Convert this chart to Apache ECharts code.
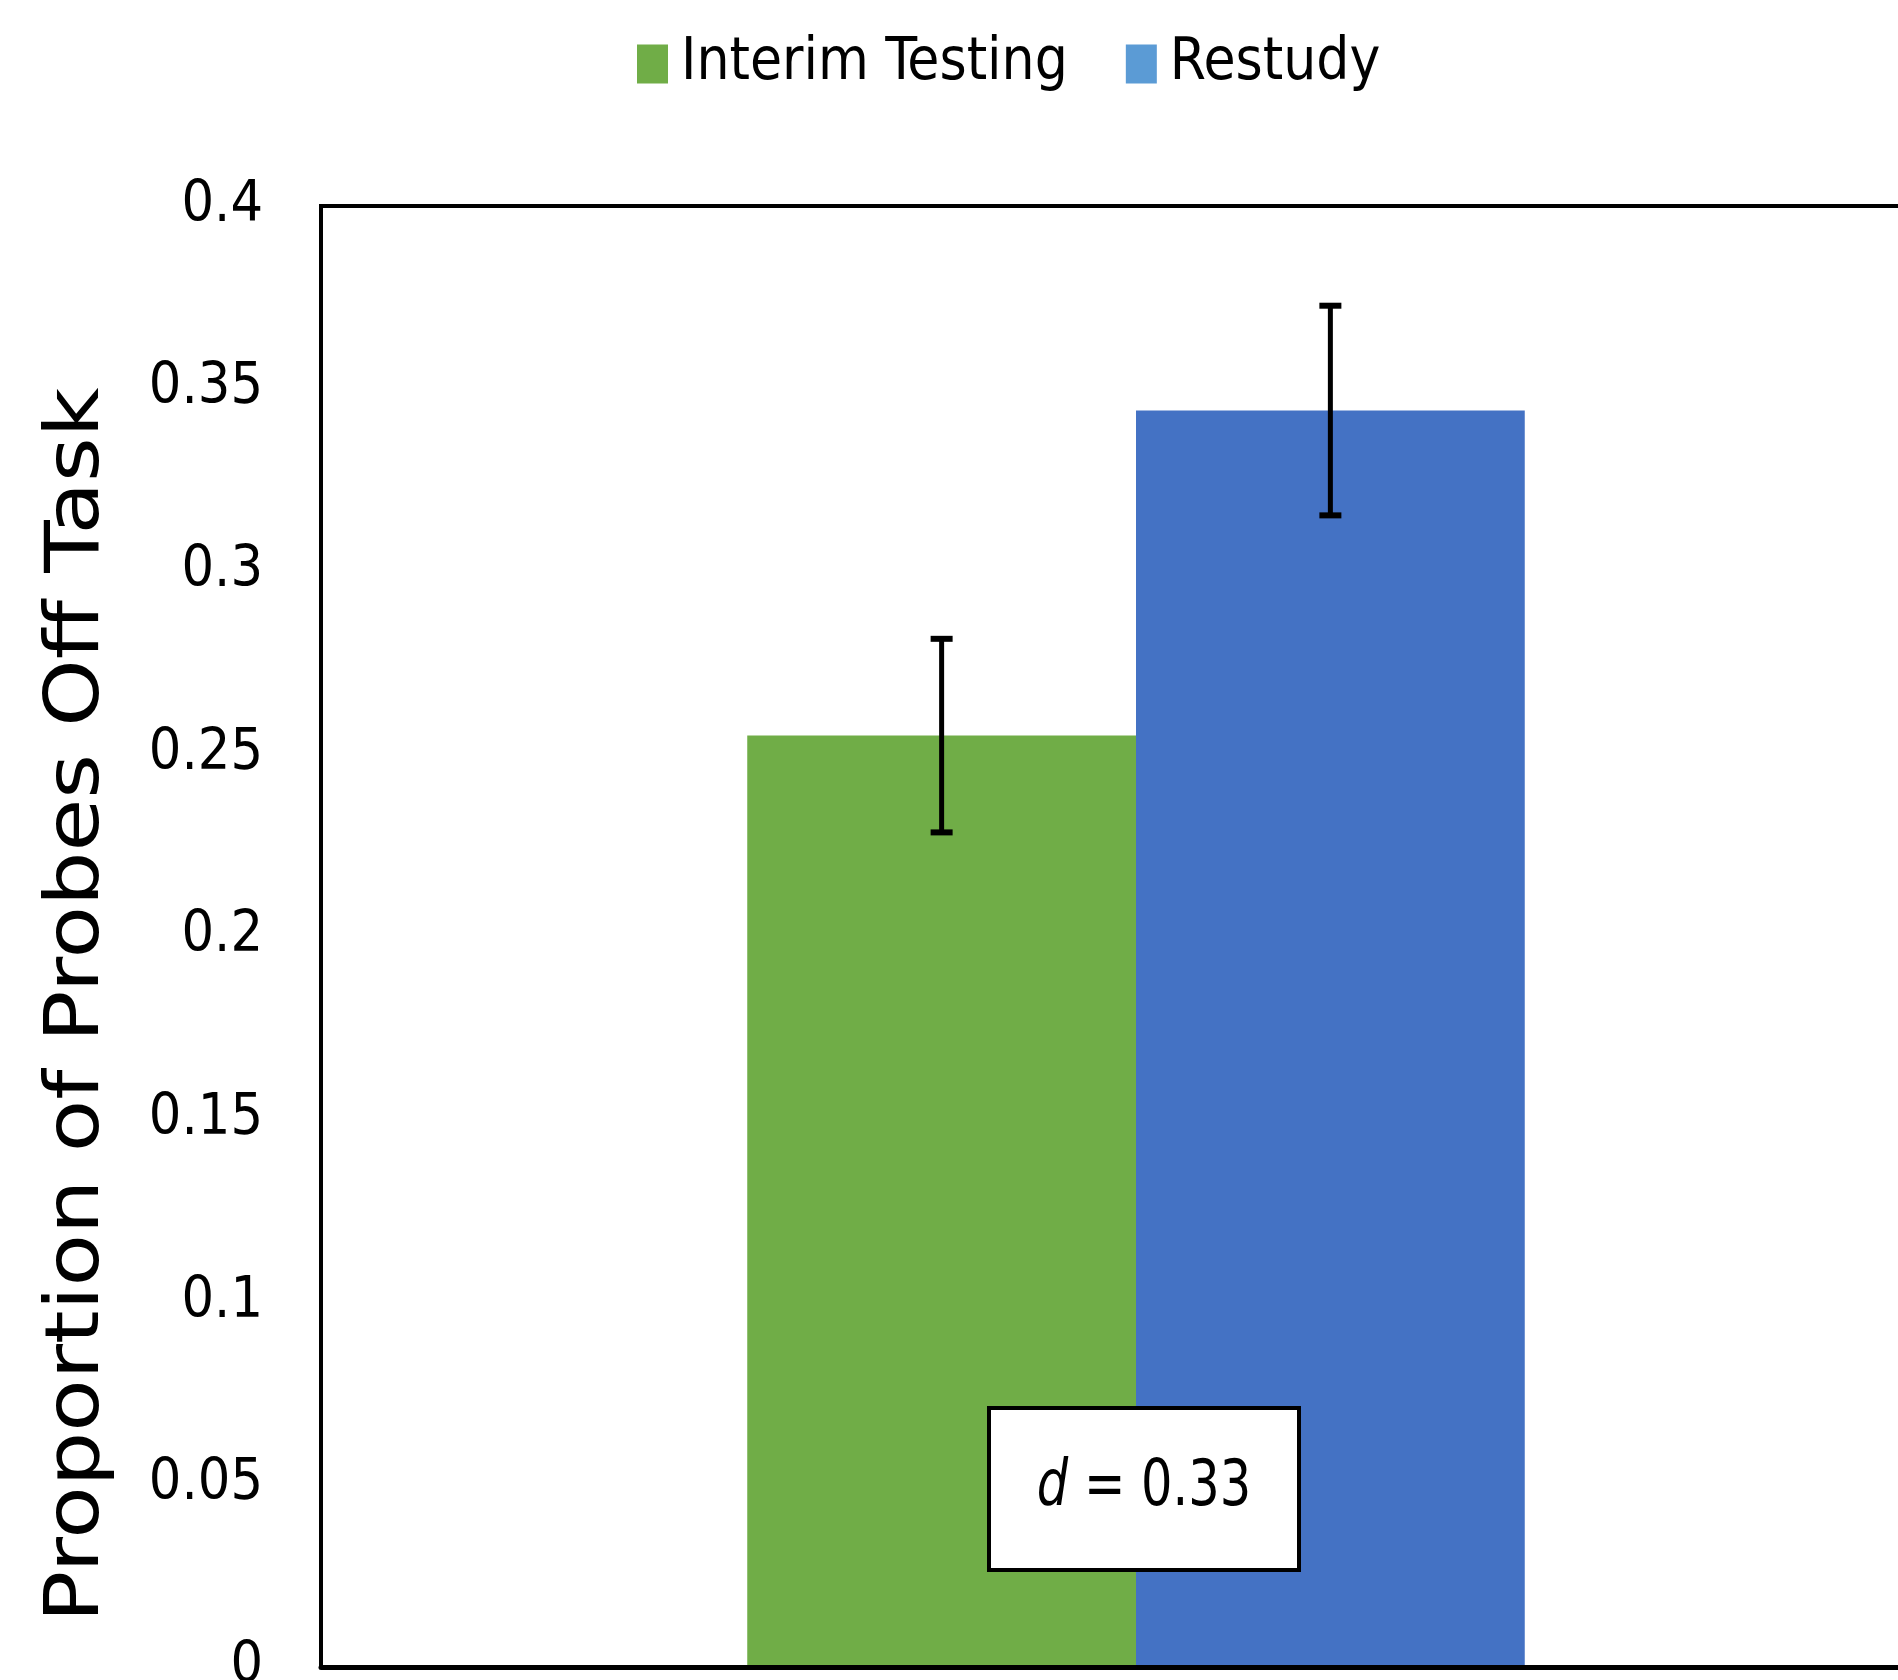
<!DOCTYPE html>
<html>
<head>
<meta charset="utf-8">
<script src="https://cdn.jsdelivr.net/npm/echarts@6/dist/echarts.min.js"></script>
<style>
html,body{margin:0;padding:0;background:#fff;}
#chart{width:1898px;height:1680px;}
</style>
</head>
<body>
<div id="chart"></div>
<script>
const categories = ['Condition'];
const seriesNames = ['Interim Testing', 'Restudy'];
const interimValues = [0.255];
const restudyValues = [0.344];
const interimErr = [0.0265];
const restudyErr = [0.0287];
const yTicks = [0, 0.05, 0.1, 0.15, 0.2, 0.25, 0.3, 0.35, 0.4];
const annotationText = 'd = 0.33';
const yAxisTitle = 'Proportion of Probes Off Task';

const NARROW = '"Liberation Sans Narrow","DejaVu Sans Condensed","Arial Narrow",sans-serif';
const BAR_FRAC = 0.2385;

function errData(vals, errs) {
  return vals.map((v, i) => [i, v - errs[i], v + errs[i]]);
}
function errRender(sign) {
  return function (params, api) {
    const lo = api.coord([api.value(0), api.value(1)]);
    const hi = api.coord([api.value(0), api.value(2)]);
    const band = api.size([1, 0])[0];
    const cx = lo[0] + sign * band * BAR_FRAC / 2;
    const cap = 11;
    const style = { stroke: '#000', lineWidth: 5 };
    return {
      type: 'group',
      children: [
        { type: 'line', shape: { x1: cx, y1: lo[1], x2: cx, y2: hi[1] }, style },
        { type: 'line', shape: { x1: cx - cap, y1: hi[1], x2: cx + cap, y2: hi[1] }, style: { stroke: '#000', lineWidth: 6 } },
        { type: 'line', shape: { x1: cx - cap, y1: lo[1], x2: cx + cap, y2: lo[1] }, style: { stroke: '#000', lineWidth: 6 } }
      ]
    };
  };
}

const chart = echarts.init(document.getElementById('chart'));
chart.setOption({
  animation: false,
  backgroundColor: '#fff',
  legend: {
    left: 632,
    top: 30,
    itemWidth: 31,
    itemHeight: 39,
    itemGap: 58,
    textStyle: { fontFamily: NARROW, fontSize: 58, color: '#000', padding: [0, 0, 0, 8] },
    data: [
      { name: seriesNames[0], icon: 'rect', itemStyle: { color: '#70AD47' } },
      { name: seriesNames[1], icon: 'rect', itemStyle: { color: '#5B9BD5' } }
    ]
  },
  grid: {
    left: 321, top: 206, width: 1630, bottom: 13,
    outerBoundsMode: 'none',
    containLabel: false,
    show: true, borderColor: '#000', borderWidth: 4, backgroundColor: 'transparent'
  },
  xAxis: {
    type: 'category',
    data: categories,
    z: 10,
    axisLine: { show: true, lineStyle: { color: '#000', width: 5 } },
    axisTick: { show: false },
    axisLabel: { show: false }
  },
  yAxis: {
    type: 'value',
    min: 0, max: 0.4, interval: 0.05,
    z: 10,
    axisLine: { show: true, lineStyle: { color: '#000', width: 4 } },
    axisTick: { show: false },
    splitLine: { show: false },
    axisLabel: {
      margin: 58,
      padding: [12, 0, 0, 0],
      fontFamily: NARROW, fontSize: 57, color: '#000',
      formatter: v => { const t = yTicks.find(k => Math.abs(k - v) < 1e-9); return t === undefined ? '' : String(t); }
    }
  },
  graphic: [
    {
      type: 'text', x: 79, y: 1005, rotation: Math.PI / 2, scaleX: 1.16,
      style: { text: yAxisTitle, fontFamily: '"DejaVu Sans",sans-serif', fontSize: 74, fill: '#000', align: 'center', verticalAlign: 'middle' }
    },
    {
      type: 'rect', x: 989, y: 1408, z: 20,
      shape: { width: 310, height: 162 },
      style: { fill: '#fff', stroke: '#000', lineWidth: 4 }
    },
    {
      type: 'text', x: 1144, y: 1489, z: 21, scaleY: 1.15,
      style: {
        text: '{i|d} = 0.33',
        align: 'center', verticalAlign: 'middle',
        fontFamily: NARROW, fontSize: 55, fill: '#000',
        rich: { i: { fontFamily: NARROW, fontSize: 55, fontStyle: 'italic', fill: '#000' } }
      }
    }
  ],
  series: [
    { name: seriesNames[0], type: 'bar', data: interimValues, barWidth: (BAR_FRAC * 100) + '%', barGap: '0%', itemStyle: { color: '#70AD47' } },
    { name: seriesNames[1], type: 'bar', data: restudyValues, barWidth: (BAR_FRAC * 100) + '%', barGap: '0%', itemStyle: { color: '#4472C4' } },
    { name: 'errI', type: 'custom', data: errData(interimValues, interimErr), renderItem: errRender(-1), z: 5 },
    { name: 'errR', type: 'custom', data: errData(restudyValues, restudyErr), renderItem: errRender(1), z: 5 }
  ]
});
</script>
</body>
</html>
